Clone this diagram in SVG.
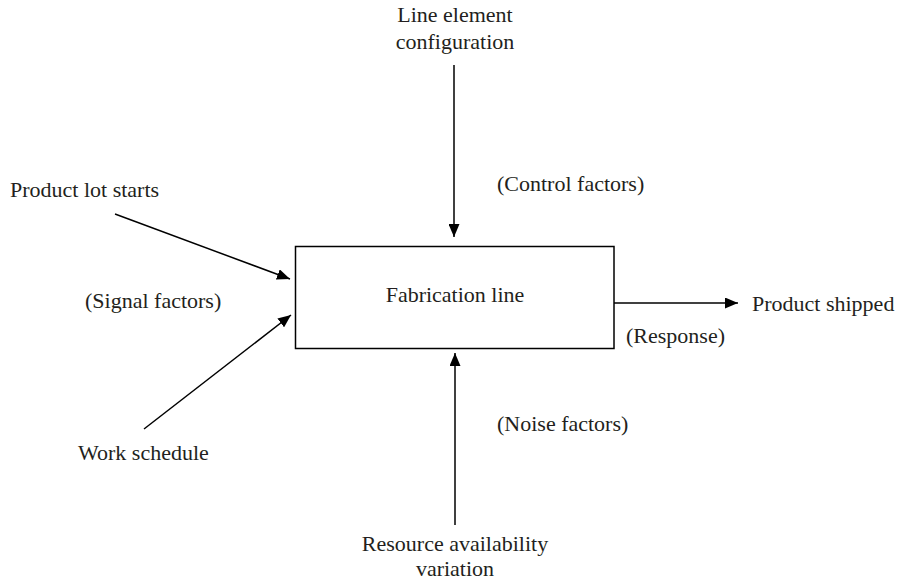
<svg xmlns="http://www.w3.org/2000/svg" width="900" height="582" viewBox="0 0 900 582">
<defs>
<style>
text{font-family:"Liberation Serif","Times New Roman",serif;font-size:22px;fill:#231f20}
.c{text-anchor:middle}
.ln{stroke:#000;stroke-width:1.5;fill:none}
</style>
<marker id="ah" viewBox="0 0 13 11" refX="13" refY="5.5" markerWidth="13" markerHeight="11" markerUnits="userSpaceOnUse" orient="auto">
<path d="M0,0 L13,5.5 L0,11 z" fill="#000"/>
</marker>
</defs>
<rect width="900" height="582" fill="#fff"/>
<g id="connectors">
<line class="ln" x1="454" y1="65" x2="454" y2="237" marker-end="url(#ah)"/>
<line class="ln" x1="455" y1="525" x2="455" y2="353" marker-end="url(#ah)"/>
<line class="ln" x1="115" y1="214" x2="290" y2="279" marker-end="url(#ah)"/>
<line class="ln" x1="144" y1="429" x2="291" y2="315" marker-end="url(#ah)"/>
<line class="ln" x1="614" y1="303" x2="738" y2="303" marker-end="url(#ah)"/>
</g>
<g id="fabrication-line">
<rect x="295.5" y="246.5" width="318.5" height="102" fill="#fff" stroke="#000" stroke-width="1.5"/>
<text class="c" x="455" y="302">Fabrication line</text>
</g>
<g id="line-element-configuration">
<text class="c" x="455" y="22">Line element</text>
<text class="c" x="455" y="49">configuration</text>
<text x="497" y="191">(Control factors)</text>
</g>
<g id="product-lot-starts">
<text x="10" y="197">Product lot starts</text>
</g>
<g id="signal-factors">
<text x="85" y="308">(Signal factors)</text>
</g>
<g id="work-schedule">
<text x="78" y="460">Work schedule</text>
</g>
<g id="product-shipped">
<text x="752" y="311">Product shipped</text>
<text x="626" y="343">(Response)</text>
</g>
<g id="resource-availability">
<text class="c" x="455" y="551">Resource availability</text>
<text class="c" x="455" y="576">variation</text>
<text x="497" y="431">(Noise factors)</text>
</g>
</svg>
